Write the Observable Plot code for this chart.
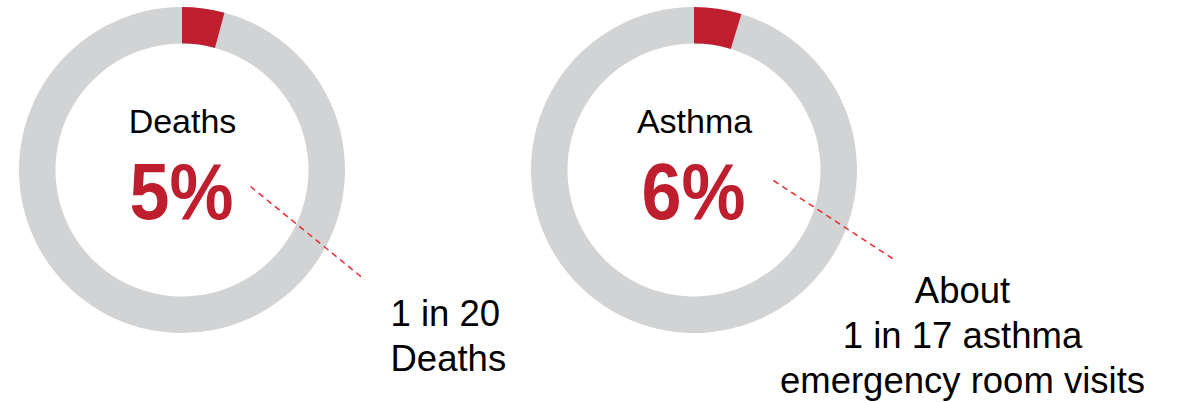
<!DOCTYPE html>
<html>
<head>
<meta charset="utf-8">
<script src="https://cdn.jsdelivr.net/npm/d3@7"></script>
<script src="https://cdn.jsdelivr.net/npm/@observablehq/plot@0.6"></script>
<style>
  body { margin: 0; background: #ffffff; }
  #chart svg { display: block; font-family: "Liberation Sans", Arial, sans-serif; }
</style>
</head>
<body>
<div id="chart"></div>
<script>
// ---- data ----
const categories = ["Deaths", "Asthma"];
const percentLabels = ["5%", "6%"];
const wedgeShare = [4.2, 4.7];          // red wedge share (%) as drawn in the picture
const annotationLeft = ["1 in 20", "Deaths"];
const annotationRight = ["About", "1 in 17 asthma", "emergency room visits"];

// ---- layout (pixels per unit: 512) ----
const W = 1178, H = 402, U = 512;
const idx = categories.map((d, i) => i);
const rows = idx.map(i => ({i, category: categories[i], pct: percentLabels[i], share: wedgeShare[i]}));

const RED = "#BE1E2D", GREY = "#D1D3D4", DASH = "#EE2A2F";
const outerR = 163 / U, innerR = 126.5 / U;

const leaders = [
  {x1: 0 + 68 / U, y1: 16 / U, x2: 0 + 182 / U, y2: 109 / U},
  {x1: 1 + 79 / U, y1: 10 / U, x2: 1 + 198 / U, y2: 88 / U}
];

function donuts(index, scales) {
  const g = d3.create("svg:g").attr("aria-label", "donut");
  const x = scales.x, y = scales.y;
  const ro = x(outerR) - x(0), ri = x(innerR) - x(0);
  const arc = d3.arc().innerRadius(ri).outerRadius(ro);
  for (const r of rows) {
    const a = r.share / 100 * 2 * Math.PI;
    const gg = g.append("g").attr("transform", `translate(${x(r.i)},${y(0)})`);
    gg.append("path").attr("d", arc({startAngle: a, endAngle: 2 * Math.PI})).attr("fill", GREY);
    gg.append("path").attr("d", arc({startAngle: 0, endAngle: a})).attr("fill", RED);
  }
  return g.node();
}

const plot = Plot.plot({
  width: W,
  height: H,
  margin: 0,
  x: {domain: [-182 / U, (W - 182) / U], range: [0, W], axis: null},
  y: {domain: [-170 / U, (H - 170) / U], range: [0, H], axis: null},
  style: {fontFamily: '"Liberation Sans", Arial, sans-serif', background: "#fff"},
  marks: [
    donuts,
    Plot.link(leaders, {x1: "x1", y1: "y1", x2: "x2", y2: "y2", stroke: DASH, strokeWidth: 1.5, strokeDasharray: "6,4.5"}),
    Plot.text(rows, {x: "i", y: () => 0, text: "category", fontSize: 34, fill: "#000", dy: -38, lineAnchor: "bottom"}),
    Plot.text(rows, {x: "i", y: () => 0, text: "pct", fontSize: 80, fontWeight: "bold", fill: RED, dy: 48, dx: -1, lineAnchor: "bottom", ariaLabel: "pct"}),
    Plot.text([annotationLeft.join("\n")], {x: () => 0, y: () => 0, text: d => d, fontSize: 36.5, fill: "#000", textAnchor: "start", dx: 208, dy: 200, lineAnchor: "bottom", lineHeight: 1.22}),
    Plot.text([annotationRight.join("\n")], {x: () => 1, y: () => 0, text: d => d, fontSize: 36.5, fill: "#000", textAnchor: "middle", dx: 268, dy: 222, lineAnchor: "bottom", lineHeight: 1.22})
  ]
});
// condense the big percentage labels to the reference's narrower look
let pctTexts = d3.select(plot).selectAll('g[aria-label="pct"] text');
if (pctTexts.empty()) pctTexts = d3.select(plot).selectAll("text").filter(function () {
  return this.textContent.endsWith("%");
});
pctTexts.attr("textLength", 104).attr("lengthAdjust", "spacingAndGlyphs");
document.getElementById("chart").appendChild(plot);
</script>
</body>
</html>
